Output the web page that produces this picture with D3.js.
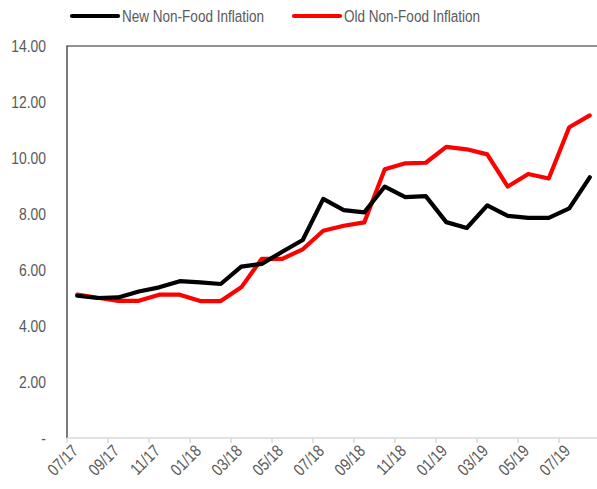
<!DOCTYPE html>
<html lang="en">
<head>
<meta charset="utf-8">
<title>Non-Food Inflation</title>
<script src="https://cdn.jsdelivr.net/npm/d3@7"></script>
<style>
  body { margin: 0; background: #fff; }
  text { font-family: "Liberation Sans", Arial, sans-serif; fill: #595959; }
</style>
</head>
<body>
<svg width="597" height="489"></svg>
<script>
var months = ["07/17","08/17","09/17","10/17","11/17","12/17","01/18","02/18","03/18","04/18","05/18","06/18",
              "07/18","08/18","09/18","10/18","11/18","12/18","01/19","02/19","03/19","04/19","05/19","06/19",
              "07/19","08/19"];
var newNonFood = [5.08, 5.0, 5.02, 5.23, 5.38, 5.6, 5.56, 5.5, 6.12, 6.22, 6.65, 7.07,
                  8.54, 8.14, 8.06, 8.98, 8.6, 8.64, 7.71, 7.5, 8.31, 7.93, 7.86, 7.86,
                  8.2, 9.31];
var oldNonFood = [5.12, 5.01, 4.9, 4.9, 5.12, 5.12, 4.89, 4.89, 5.38, 6.4, 6.4, 6.74,
                  7.4, 7.58, 7.7, 9.6, 9.81, 9.83, 10.4, 10.31, 10.13, 8.98, 9.43, 9.27,
                  11.1, 11.52];
var yTicks = [0, 2, 4, 6, 8, 10, 12, 14];
var series = [
  {name: "New Non-Food Inflation", values: newNonFood, color: "#000000"},
  {name: "Old Non-Food Inflation", values: oldNonFood, color: "#ff0000"}
];

var svg = d3.select("svg"),
    margin = {top: 46, left: 67, right: 600, bottom: 438},
    narrow = 0.82; // no Arial Narrow here, so squeeze the text

var x = d3.scaleBand().domain(months).range([margin.left, margin.right]),
    y = d3.scaleLinear().domain([0, 14]).range([margin.bottom, margin.top]);

// plot border (top and left)
svg.append("path")
    .attr("d", "M" + margin.left + "," + margin.bottom + "V" + margin.top + "H" + margin.right)
    .attr("fill", "none")
    .attr("stroke", "#262626")
    .attr("stroke-width", 1.2);

// y labels
svg.selectAll(".ylab")
  .data(yTicks)
  .enter().append("text")
    .attr("class", "ylab")
    .attr("transform", function(d) { return "translate(46," + y(d) + ") scale(" + narrow + ",1)"; })
    .attr("dy", "0.35em")
    .attr("text-anchor", "end")
    .style("font-size", "17px")
    .text(function(d) { return d === 0 ? "-" : d.toFixed(2); });

// x axis
svg.append("line")
    .attr("x1", margin.left).attr("x2", margin.right)
    .attr("y1", margin.bottom).attr("y2", margin.bottom)
    .attr("stroke", "#d9d9d9").attr("stroke-width", 1.5);

var labelled = months.filter(function(d, i) { return i % 2 === 0; });

svg.selectAll(".xtick")
  .data(labelled)
  .enter().append("line")
    .attr("class", "xtick")
    .attr("x1", function(d) { return x(d); })
    .attr("x2", function(d) { return x(d); })
    .attr("y1", margin.bottom).attr("y2", margin.bottom + 5)
    .attr("stroke", "#d9d9d9").attr("stroke-width", 1.5);

svg.selectAll(".xlab")
  .data(labelled)
  .enter().append("text")
    .attr("class", "xlab")
    .attr("text-anchor", "end")
    .attr("transform", function(d) {
      return "translate(" + (x(d) + x.bandwidth() / 2 + 2) + "," + (margin.bottom + 14) + ") rotate(-45) scale(" + narrow + ",1)";
    })
    .style("font-size", "17px")
    .text(function(d) { return d; });

// lines
var line = d3.line()
    .x(function(d, i) { return x(months[i]) + x.bandwidth() / 2; })
    .y(function(d) { return y(d); });

svg.selectAll(".series")
  .data(series.slice().reverse())
  .enter().append("path")
    .attr("class", "series")
    .attr("d", function(s) { return line(s.values); })
    .attr("fill", "none")
    .attr("stroke", function(s) { return s.color; })
    .attr("stroke-width", 4.2)
    .attr("stroke-linejoin", "round")
    .attr("stroke-linecap", "round");

// legend
var legend = svg.selectAll(".legend")
  .data(series)
  .enter().append("g")
    .attr("class", "legend")
    .attr("transform", function(d, i) { return "translate(" + (72 + i * 222) + ",16)"; });

legend.append("line")
    .attr("x1", 0).attr("x2", 46)
    .attr("stroke", function(d) { return d.color; })
    .attr("stroke-width", 4.2)
    .attr("stroke-linecap", "round");

legend.append("text")
    .attr("transform", "translate(50,0) scale(" + narrow + ",1)")
    .attr("dy", "0.35em")
    .style("font-size", "16.5px")
    .text(function(d) { return d.name; });
</script>
</body>
</html>
